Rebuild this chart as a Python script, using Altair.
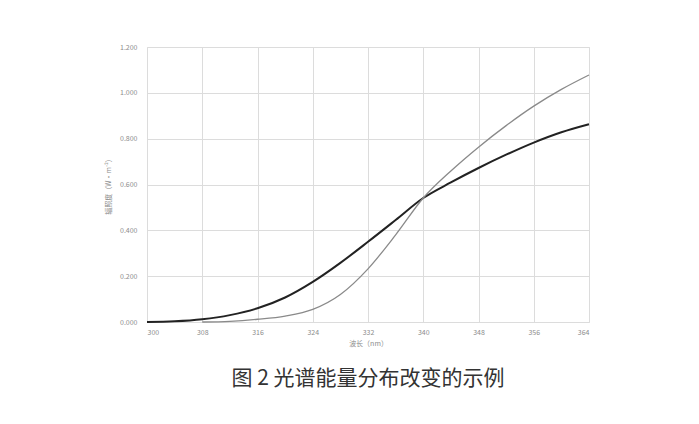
import altair as alt
import pandas as pd

wavelength = [300, 304, 308, 312, 316, 320, 324, 328, 332, 336, 340, 344, 348, 352, 356, 360, 364]
series_dark = [0.000, 0.003, 0.012, 0.030, 0.060, 0.107, 0.175, 0.258, 0.350, 0.445, 0.541, 0.609, 0.672, 0.730, 0.783, 0.828, 0.863]
series_grey = [None, None, 0.000, 0.003, 0.012, 0.026, 0.055, 0.120, 0.232, 0.380, 0.541, 0.659, 0.763, 0.857, 0.942, 1.015, 1.078]
x_ticks = [300, 308, 316, 324, 332, 340, 348, 356, 364]
y_ticks = [0.0, 0.2, 0.4, 0.6, 0.8, 1.0, 1.2]

rows = []
for w, a, b in zip(wavelength, series_dark, series_grey):
    rows.append({"wl": w, "v": a, "s": "A"})
    if b is not None:
        rows.append({"wl": w, "v": b, "s": "B"})
df = pd.DataFrame(rows)

FONT = "Noto Sans CJK SC"

x = alt.X("wl:Q", scale=alt.Scale(domain=[300, 364], nice=False),
          axis=alt.Axis(values=x_ticks, title="波长（nm）", labelFontSize=7, titleFontSize=7,
                        labelColor="#8c8c8c", titleColor="#8c8c8c", titleFontWeight="normal",
                        gridColor="#dcdcdc", domain=False, ticks=False, labelPadding=6,
                        titlePadding=4, labelFont=FONT, titleFont=FONT))
y = alt.Y("v:Q", scale=alt.Scale(domain=[0, 1.2], nice=False),
          axis=alt.Axis(values=y_ticks, format=".3f", title="辐照度（W·m⁻²）", labelFontSize=7,
                        titleFontSize=7, labelColor="#8c8c8c", titleColor="#8c8c8c",
                        titleFontWeight="normal", gridColor="#dcdcdc", domain=False, ticks=False,
                        labelPadding=10, titlePadding=8, labelFont=FONT, titleFont=FONT))

chart = alt.Chart(df).mark_line(interpolate="monotone").encode(
    x=x, y=y,
    color=alt.Color("s:N", scale=alt.Scale(domain=["A", "B"], range=["#222222", "#8a8a8a"]), legend=None),
    strokeWidth=alt.StrokeWidth("s:N", scale=alt.Scale(domain=["A", "B"], range=[2.0, 1.3]), legend=None),
).properties(
    width=442, height=275,
    title=alt.TitleParams("图 2  光谱能量分布改变的示例", orient="bottom", anchor="middle",
                          fontSize=21, fontWeight="normal", color="#333333",
                          font=FONT, offset=22),
    autosize=alt.AutoSizeParams(type="none"),
    padding={"left": 139, "top": 39, "right": 102, "bottom": 94},
).configure_view(stroke="#dcdcdc").configure(background="white")

chart.save("out.html", embed_options={"renderer": "svg", "actions": False})
